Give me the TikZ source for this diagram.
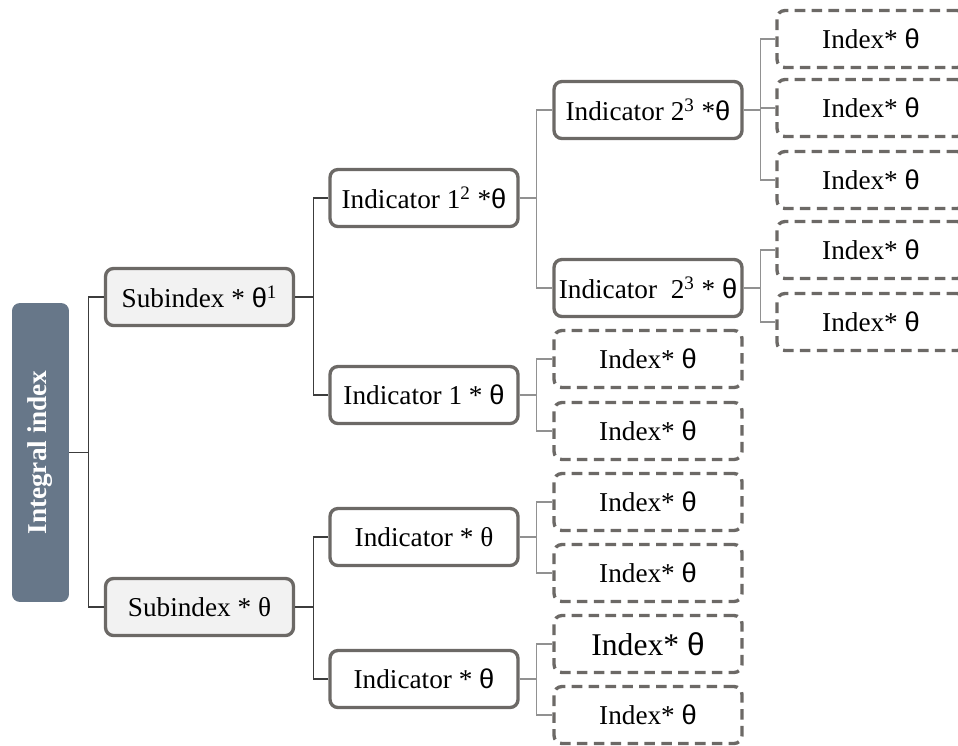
\documentclass[tikz,border=0pt]{standalone}
\usepackage{fontspec}
\setmainfont{Liberation Serif}
\newfontfamily\thetafont{Liberation Sans}
\newcommand{\sth}{{\thetafont θ}}

\definecolor{boxline}{RGB}{108,105,102}
\definecolor{boxfill}{RGB}{242,242,242}
\definecolor{rootfill}{RGB}{103,119,137}
\definecolor{linkdark}{RGB}{60,60,60}
\definecolor{linkgray}{RGB}{145,145,145}

\begin{document}
\begin{tikzpicture}[
    x=0.02cm, y=-0.02cm,
    every node/.style={font=\fontsize{15.5}{18}\selectfont},
    box/.style={draw=boxline, line width=1.9pt, rounded corners=4.5pt,
        minimum width=3.76cm, minimum height=1.14cm, inner sep=1pt},
    subbox/.style={box, fill=boxfill},
    indexbox/.style={box, dash pattern=on 6pt off 3.6pt},
    rootbox/.style={fill=rootfill, rounded corners=4.5pt, rotate=90,
        minimum width=5.98cm, minimum height=1.14cm, text=white,
        font=\fontsize{15.5}{18}\selectfont\bfseries},
    link/.style={draw=linkdark, line width=0.6pt},
    sublink/.style={draw=linkgray, line width=0.6pt}
]
\useasboundingbox (0,0) rectangle (958,745);
\clip (0,0) rectangle (958,745);

% Root
\node[rootbox] (root) at (40.5,452.5) {Integral index};

% Subindices
\node[subbox] (sub1) at (199.5,297) {Subindex * \sth\textsuperscript{1}};
\node[subbox] (sub2) at (199.5,607) {Subindex * θ};

% Indicators
\node[box] (ind12) at (424,198) {Indicator 1\textsuperscript{2} *\sth};
\node[box] (ind1)  at (424,395) {Indicator 1 * \sth};
\node[box] (indA)  at (424,537) {Indicator * θ};
\node[box] (indB)  at (424,679) {Indicator * \sth};
\node[box] (ind23a) at (648,110) {Indicator 2\textsuperscript{3} *\sth};
\node[box] (ind23b) at (648,288) {Indicator\ \ 2\textsuperscript{3} * \sth};

% Indices, right column
\node[indexbox] (ixA1) at (871,39)  {Index* \sth};
\node[indexbox] (ixA2) at (871,108) {Index* \sth};
\node[indexbox] (ixA3) at (871,180) {Index* \sth};
\node[indexbox] (ixB1) at (871,250) {Index* \sth};
\node[indexbox] (ixB2) at (871,322) {Index* \sth};

% Indices, middle column
\node[indexbox] (ixC1) at (648,359) {Index* \sth};
\node[indexbox] (ixC2) at (648,431) {Index* \sth};
\node[indexbox] (ixD1) at (648,502) {Index* \sth};
\node[indexbox] (ixD2) at (648,573) {Index* \sth};
\node[indexbox, font=\fontsize{18}{21}\selectfont] (ixE1) at (648,644) {Index* \sth};
\node[indexbox] (ixE2) at (648,715) {Index* \sth};

% Connectors, first levels
\draw[link] (root.south) -- ++(19,0) |- (sub1.west);
\draw[link] (root.south) -- ++(19,0) |- (sub2.west);
\draw[link] (sub1.east) -- ++(18,0) |- (ind12.west);
\draw[link] (sub1.east) -- ++(18,0) |- (ind1.west);
\draw[link] (sub2.east) -- ++(18,0) |- (indA.west);
\draw[link] (sub2.east) -- ++(18,0) |- (indB.west);

% Connectors, deeper levels
\draw[sublink] (ind12.east) -- ++(17,0) |- (ind23a.west);
\draw[sublink] (ind12.east) -- ++(17,0) |- (ind23b.west);
\draw[sublink] (ind23a.east) -- ++(17,0) |- (ixA1.west);
\draw[sublink] (ind23a.east) -- ++(17,0) |- (ixA2.west);
\draw[sublink] (ind23a.east) -- ++(17,0) |- (ixA3.west);
\draw[sublink] (ind23b.east) -- ++(17,0) |- (ixB1.west);
\draw[sublink] (ind23b.east) -- ++(17,0) |- (ixB2.west);
\draw[sublink] (ind1.east) -- ++(17,0) |- (ixC1.west);
\draw[sublink] (ind1.east) -- ++(17,0) |- (ixC2.west);
\draw[sublink] (indA.east) -- ++(17,0) |- (ixD1.west);
\draw[sublink] (indA.east) -- ++(17,0) |- (ixD2.west);
\draw[sublink] (indB.east) -- ++(17,0) |- (ixE1.west);
\draw[sublink] (indB.east) -- ++(17,0) |- (ixE2.west);

\end{tikzpicture}
\end{document}
